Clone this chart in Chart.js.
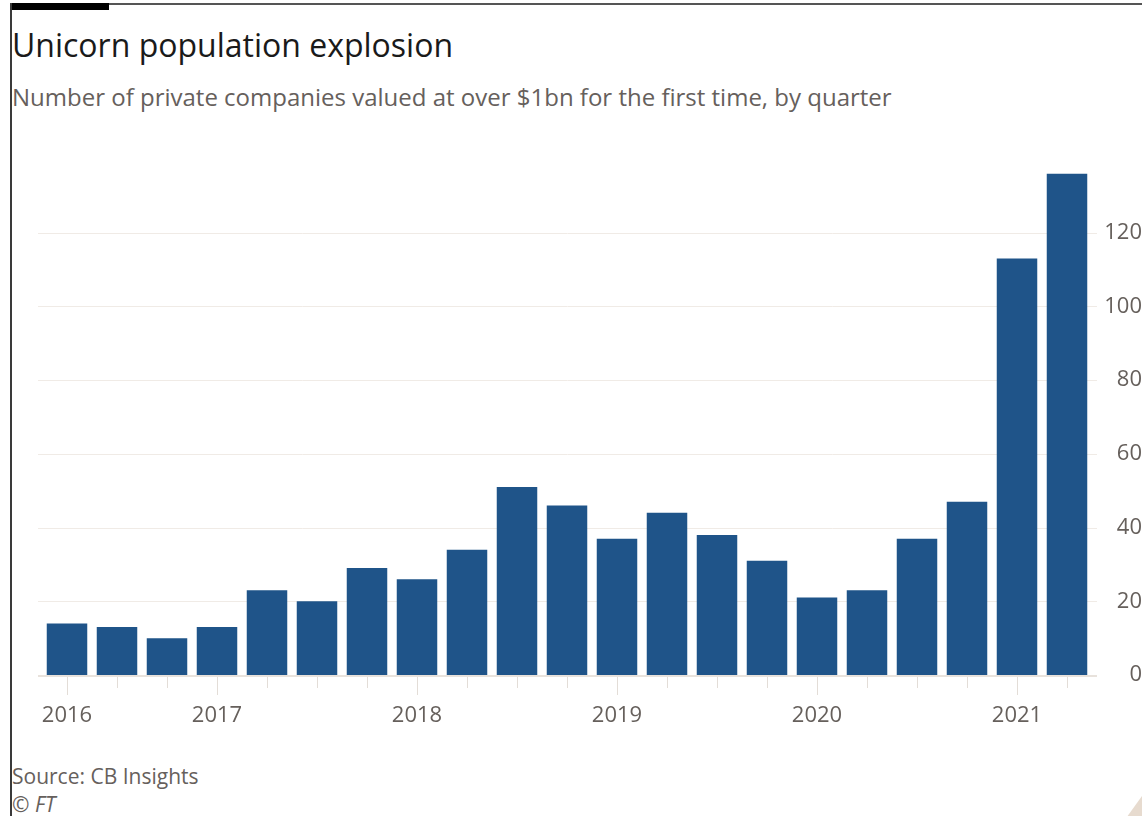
<!DOCTYPE html>
<html>
<head>
<meta charset="utf-8">
<script src="https://cdn.jsdelivr.net/npm/chart.js@4/dist/chart.umd.min.js"></script>
<style>
  html, body { margin: 0; padding: 0; background: #ffffff; }
  #page { position: relative; width: 1142px; height: 816px; overflow: hidden; background: #ffffff; font-family: "Open Sans", Lato, sans-serif; }
  #frame-top { position: absolute; left: 10px; top: 3px; width: 1132px; height: 2px; background: #555555; }
  #frame-left { position: absolute; left: 10px; top: 3px; width: 2px; height: 813px; background: #3a3a3a; }
  #tag { position: absolute; left: 12px; top: 3px; width: 97px; height: 7px; background: #000000; }
  #corner { position: absolute; left: 1124px; top: 796px; width: 18px; height: 20px; background: #e7dbcf; clip-path: polygon(100% 0, 100% 100%, 20% 100%); }
  .txt { position: absolute; left: 12px; white-space: nowrap; }
  #title { top: 27px; font-size: 32px; line-height: 36px; color: #1a1a1a; }
  #subtitle { top: 83px; font-size: 24px; line-height: 28px; color: #66605c; }
  #source { top: 763px; font-size: 21px; line-height: 26px; color: #66605c; }
  #credit { top: 791px; font-size: 21px; line-height: 26px; color: #66605c; font-style: italic; }
  #chart { position: absolute; left: 0; top: 140px; }
</style>
</head>
<body>
<div id="page">
  <div id="frame-top"></div>
  <div id="frame-left"></div>
  <div id="tag"></div>
  <div id="title" class="txt">Unicorn population explosion</div>
  <div id="subtitle" class="txt">Number of private companies valued at over $1bn for the first time, by quarter</div>
  <canvas id="chart" width="1142" height="620"></canvas>
  <div id="source" class="txt">Source: CB Insights</div>
  <div id="credit" class="txt">© FT</div>
  <div id="corner"></div>
</div>
<script>
// Quarterly count of new unicorns
const quarters = [
  '2016 Q2', '2016 Q3', '2016 Q4',
  '2017 Q1', '2017 Q2', '2017 Q3', '2017 Q4',
  '2018 Q1', '2018 Q2', '2018 Q3', '2018 Q4',
  '2019 Q1', '2019 Q2', '2019 Q3', '2019 Q4',
  '2020 Q1', '2020 Q2', '2020 Q3', '2020 Q4',
  '2021 Q1', '2021 Q2'
];
const newUnicorns = [14, 13, 10, 13, 23, 20, 29, 26, 34, 51, 46, 37, 44, 38, 31, 21, 23, 37, 47, 113, 136];
const yearTickLabels = [
  '2016', '', '',
  '2017', '', '', '',
  '2018', '', '', '',
  '2019', '', '', '',
  '2020', '', '', '',
  '2021', ''
];
const yTickValues = [0, 20, 40, 60, 80, 100, 120];

const BAR_BLUE = '#1f5489';
const LABEL_GREY = '#66605c';
const GRID = '#f0ebe6';
const BASELINE = '#e8e2dc';
const TICK = '#e3ddd7';
const AXIS_FONT = { family: 'Open Sans', size: 22 };

// Horizontal gridlines, baseline and quarter tick marks
const ftAxes = {
  id: 'ftAxes',
  beforeDatasetsDraw(chart) {
    const { ctx, chartArea, scales } = chart;
    const y = scales.y, x = scales.x;
    ctx.save();
    y.ticks.forEach(t => {
      if (t.value === 0) return;
      const py = Math.round(y.getPixelForValue(t.value)) + 0.5;
      ctx.strokeStyle = GRID;
      ctx.lineWidth = 1;
      ctx.beginPath();
      ctx.moveTo(chartArea.left - 4, py);
      ctx.lineTo(chartArea.right + 5, py);
      ctx.stroke();
    });
    const y0 = y.getPixelForValue(0);
    ctx.strokeStyle = TICK;
    ctx.lineWidth = 1;
    quarters.forEach((q, i) => {
      const px = Math.round(x.getPixelForValue(i)) + 0.5;
      const len = yearTickLabels[i] ? 20 : 13;
      ctx.beginPath();
      ctx.moveTo(px, y0);
      ctx.lineTo(px, y0 + len);
      ctx.stroke();
    });
    ctx.strokeStyle = BASELINE;
    ctx.lineWidth = 2;
    ctx.beginPath();
    ctx.moveTo(chartArea.left - 4, y0 + 1);
    ctx.lineTo(chartArea.right + 5, y0 + 1);
    ctx.stroke();
    ctx.restore();
  }
};

new Chart(document.getElementById('chart'), {
  type: 'bar',
  data: {
    labels: quarters,
    datasets: [{
      data: newUnicorns,
      backgroundColor: BAR_BLUE,
      borderWidth: 0,
      barPercentage: 0.81,
      categoryPercentage: 1.0
    }]
  },
  options: {
    responsive: false,
    animation: false,
    devicePixelRatio: 1,
    layout: { padding: { left: 42, top: 19, right: 0, bottom: 0 } },
    plugins: { legend: { display: false }, tooltip: { enabled: false }, title: { display: false } },
    scales: {
      x: {
        offset: true,
        grid: { display: false, drawTicks: false },
        border: { display: false },
        ticks: {
          autoSkip: false,
          maxRotation: 0,
          padding: 28,
          color: LABEL_GREY,
          font: AXIS_FONT,
          callback: (v, i) => yearTickLabels[i]
        },
        afterFit: s => { s.height = 85; }
      },
      y: {
        position: 'right',
        min: 0,
        max: 140,
        grid: { display: false, drawTicks: false },
        border: { display: false },
        ticks: {
          padding: 0,
          crossAlign: 'far',
          color: LABEL_GREY,
          font: AXIS_FONT
        },
        afterBuildTicks: s => { s.ticks = yTickValues.map(v => ({ value: v })); },
        afterFit: s => { s.width = 50; s.paddingTop = 0; s.paddingBottom = 0; }
      }
    }
  },
  plugins: [ftAxes]
});
</script>
</body>
</html>
